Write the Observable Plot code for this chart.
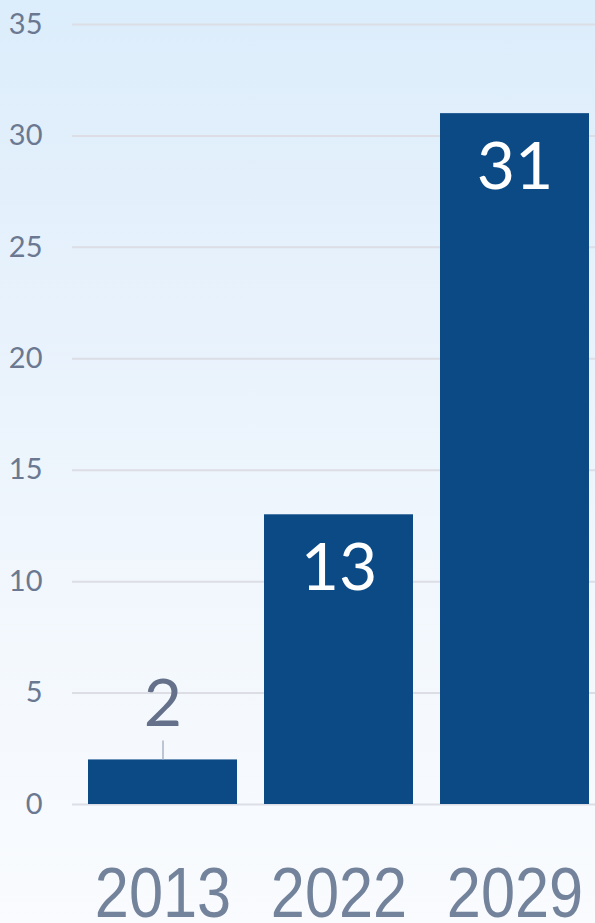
<!DOCTYPE html>
<html>
<head>
<meta charset="utf-8">
<script src="https://cdn.jsdelivr.net/npm/d3@7"></script>
<script src="https://cdn.jsdelivr.net/npm/@observablehq/plot@0.6"></script>
<style>
  html, body { margin: 0; padding: 0; }
  body {
    width: 595px; height: 923px; overflow: hidden;
    background: linear-gradient(to bottom, #dcedfb 0%, #e8f2fc 35%, #f3f8fd 70%, #f9fbfe 100%);
  }
  #chart svg { display: block; }
</style>
</head>
<body>
<div id="chart"></div>
<script>
const years = ["2013", "2022", "2029"];
const values = [2, 13, 31];
const labelInside = [false, true, true];
const yTicks = [0, 5, 10, 15, 20, 25, 30, 35];

const data = years.map((year, i) => ({ year, value: values[i], inside: labelInside[i] }));
const insideData = data.filter(d => d.inside);
const outsideData = data.filter(d => !d.inside);

const chart = Plot.plot({
  width: 595,
  height: 923,
  marginLeft: 72,
  marginRight: 0,
  marginTop: 24,
  marginBottom: 119,
  style: { background: "transparent", fontFamily: "Lato, sans-serif", overflow: "visible" },
  x: { domain: years, paddingInner: 0.1525, paddingOuter: 0.0537, align: 0.737, label: null },
  y: { domain: [0, 35], label: null },
  marks: [
    Plot.ruleY(yTicks, { stroke: "#dcdde5", strokeWidth: 2 }),
    Plot.axisY({ ticks: yTicks, tickSize: 0, tickPadding: 30, fontSize: 29, color: "#6b7891", label: null }),
    Plot.axisX({ tickSize: 0, tickPadding: 63, fontSize: 70, fontFamily: "'Liberation Sans', Arial, sans-serif", color: "#74839c", label: null }),
    Plot.barY(data, { x: "year", y: "value", fill: "#0c4a85" }),
    Plot.ruleX(outsideData, { x: "year", y1: "value", y2: d => d.value + 0.85, stroke: "#a9b3c4", strokeWidth: 1.5 }),
    Plot.text(insideData, { x: "year", y: "value", text: d => String(d.value), dy: 54, fill: "white", fontSize: 66 }),
    Plot.text(outsideData, { x: "year", y: "value", text: d => String(d.value), dy: -55, fill: "#65718a", fontSize: 66 })
  ]
});

// narrow the large x-axis year labels horizontally
d3.select(chart).selectAll('g[aria-label="x-axis tick label"] text').each(function () {
  const t = this.getAttribute("transform") || "";
  this.setAttribute("transform", t + " scale(0.876,1)");
});

document.getElementById("chart").appendChild(chart);
</script>
</body>
</html>
